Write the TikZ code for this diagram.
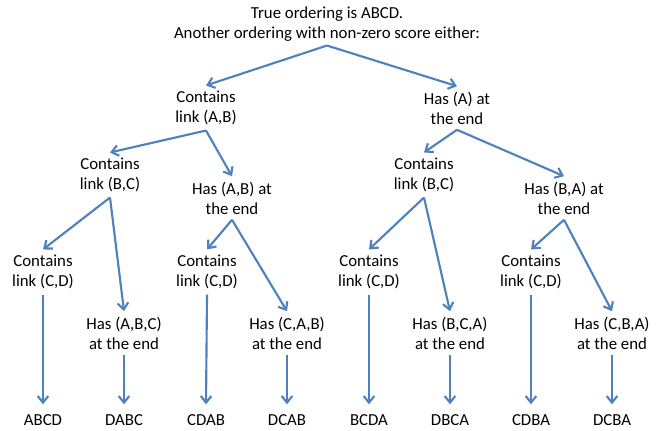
\documentclass[tikz,border=0pt]{standalone}
\usepackage{fontspec}
\setmainfont{Carlito}
\usetikzlibrary{arrows.meta}
\definecolor{linkblue}{RGB}{79,129,189}
\tikzset{
    heading/.style={align=center, font=\fontsize{12.6}{15}\selectfont, inner sep=3pt},
    test/.style={align=center, font=\fontsize{12.6}{15}\selectfont, inner sep=4pt},
    leaf/.style={font=\fontsize{12.6}{15}\selectfont, inner sep=4pt, text height=12pt},
    link/.style={->, draw=linkblue, line width=1.6pt}
}

\begin{document}
\begin{tikzpicture}[x=0.75pt,y=-0.75pt,>={Straight Barb[length=5pt,width=8pt]}]
\useasboundingbox (0,0) rectangle (670,431);

% ----------------------------
% Title and first split
% ----------------------------
\node[heading] (top) at (327,24) {True ordering is ABCD.\\Another ordering with non-zero score either:};

\node[test] (ab) at (206,108) {Contains\\link (A,B)};
\node[test] (aend) at (457,108) {Has (A) at\\the end};

% ----------------------------
% Second level
% ----------------------------
\node[test] (bcl) at (110,175) {Contains\\link (B,C)};
\node[test] (abend) at (232,198) {Has (A,B) at\\the end};
\node[test] (bcr) at (424,175) {Contains\\link (B,C)};
\node[test] (baend) at (564,198) {Has (B,A) at\\the end};

% ----------------------------
% Third level
% ----------------------------
\node[test] (cd1) at (43,272) {Contains\\link (C,D)};
\node[test] (cd2) at (207,272) {Contains\\link (C,D)};
\node[test] (cd3) at (369,272) {Contains\\link (C,D)};
\node[test] (cd4) at (531,272) {Contains\\link (C,D)};

\node[test] (abcend) at (124,333) {Has (A,B,C)\\at the end};
\node[test] (cabend) at (287,333) {Has (C,A,B)\\at the end};
\node[test] (bcaend) at (450,333) {Has (B,C,A)\\at the end};
\node[test] (cbaend) at (612,333) {Has (C,B,A)\\at the end};

% ----------------------------
% Leaves
% ----------------------------
\node[leaf] (ABCD) at (43,418) {ABCD};
\node[leaf] (DABC) at (124,418) {DABC};
\node[leaf] (CDAB) at (206,418) {CDAB};
\node[leaf] (DCAB) at (287,418) {DCAB};
\node[leaf] (BCDA) at (369,418) {BCDA};
\node[leaf] (DBCA) at (450,418) {DBCA};
\node[leaf] (CDBA) at (531,418) {CDBA};
\node[leaf] (DCBA) at (612,418) {DCBA};

% ----------------------------
% Arrows
% ----------------------------
\foreach \p/\c in {top/ab,top/aend,ab/bcl,ab/abend,aend/bcr,aend/baend,
                   bcl/cd1,bcl/abcend,abend/cd2,abend/cabend,
                   bcr/cd3,bcr/bcaend,baend/cd4,baend/cbaend} {
  \draw[link] (\p.south) -- (\c.north);
}

\foreach \p/\c in {cd1/ABCD,abcend/DABC,cd2/CDAB,cabend/DCAB,
                   cd3/BCDA,bcaend/DBCA,cd4/CDBA,cbaend/DCBA} {
  \draw[link] (\p.south) -- (\c.north);
}

\end{tikzpicture}
\end{document}
